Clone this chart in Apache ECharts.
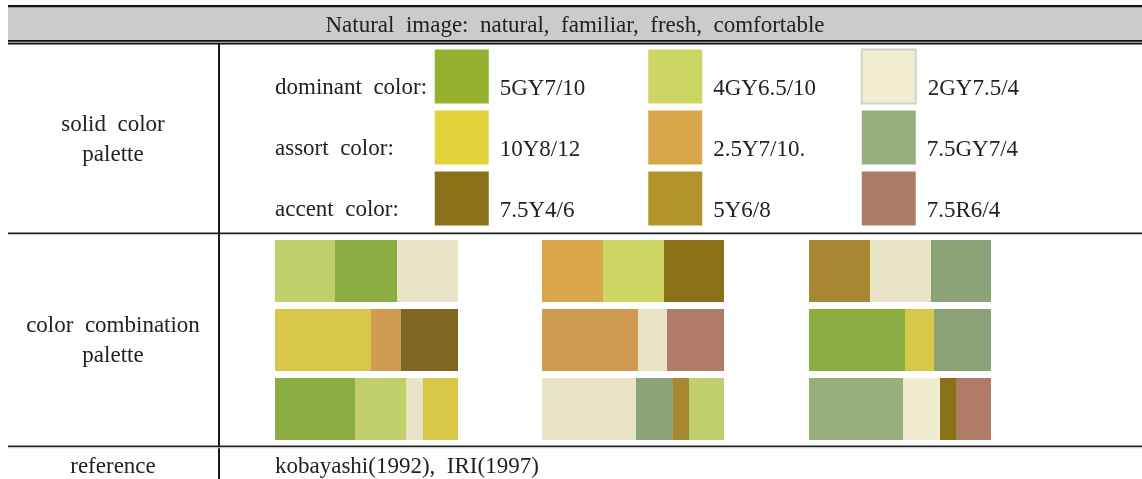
<!DOCTYPE html>
<html>
<head>
<meta charset="utf-8">
<script src="https://cdn.jsdelivr.net/npm/echarts@6/dist/echarts.min.js"></script>
<style>
  html, body { margin: 0; padding: 0; background: #fff; }
  #main { width: 1142px; height: 479px; }
</style>
</head>
<body>
<div id="main"></div>
<script>
var titleText = 'Natural  image:  natural,  familiar,  fresh,  comfortable';
var rowLabels = ['dominant  color:', 'assort  color:', 'accent  color:'];
var solidCodes = [
    ['5GY7/10', '4GY6.5/10', '2GY7.5/4'],
    ['10Y8/12', '2.5Y7/10.', '7.5GY7/4'],
    ['7.5Y4/6', '5Y6/8', '7.5R6/4']
];
var solidColors = [
    ['#95b12f', '#ccd662', '#f0edd0'],
    ['#e0d238', '#d8a64b', '#98af7b'],
    ['#8a7016', '#b3942c', '#ae7b66']
];
// widths of each segment, per palette column, per row
var comboWidths = [
    [[60, 62, 61], [96, 30, 57], [80, 51, 17, 35]],
    [[61, 61, 60], [96, 29, 57], [94, 37, 16, 35]],
    [[61, 61, 60], [96, 29, 57], [94, 37, 16, 35]]
];
var comboColors = [
    [['#c0ce6c', '#8aae41', '#e9e4c5'], ['#d8c749', '#d09b53', '#806823'], ['#8aae41', '#c0ce6c', '#e9e4c5', '#d8c749']],
    [['#d9a64b', '#cdd662', '#8a7016'], ['#d09b53', '#e9e4c5', '#b07c67'], ['#e9e4c5', '#8aa377', '#a88732', '#c0ce6c']],
    [['#a88732', '#e9e4c5', '#8aa377'], ['#8aae41', '#d8c749', '#8aa377'], ['#99af7b', '#f0ecd0', '#8a7016', '#b07c67']]
];
var sideLabels = ['solid  color\npalette', 'color  combination\npalette', 'reference'];
var referenceText = 'kobayashi(1992),  IRI(1997)';

var FONT = '"Liberation Serif", "DejaVu Serif", serif';

drawTable()

function drawTable() {
    var myChart = echarts.init(document.getElementById('main'));

    var grids = [{ left: 355, top: 46, width: 640.5, height: 183 }];
    var xAxes = [{ type: 'category', gridIndex: 0, data: [0, 1, 2], show: false }];
    var yAxes = [{
        type: 'category', gridIndex: 0, data: rowLabels, inverse: true,
        axisLine: { show: false }, axisTick: { show: false }, splitLine: { show: false },
        axisLabel: {
            align: 'left', verticalAlign: 'top', margin: 80,
            color: '#222', fontFamily: FONT, fontSize: 23
        }
    }];

    var solidData = [];
    for (var r = 0; r < solidCodes.length; r++) {
        for (var c = 0; c < solidCodes[r].length; c++) {
            var style = { color: solidColors[r][c], opacity: 1 };
            if (r == 0 && c == 2) {
                style.borderColor = '#d2d2c6';
                style.borderWidth = 2;
            }
            solidData.push({ value: [c, r], name: solidCodes[r][c], itemStyle: style });
        }
    }

    var series = [{
        type: 'scatter',
        xAxisIndex: 0, yAxisIndex: 0,
        symbol: 'rect', symbolSize: [54, 54],
        itemStyle: { opacity: 1 },
        data: solidData,
        label: {
            show: true, position: 'right', distance: 11, offset: [0, 12],
            formatter: '{b}', color: '#222', fontFamily: FONT, fontSize: 23
        }
    }];

    var lefts = [275, 542, 809];
    for (var g = 0; g < comboWidths.length; g++) {
        var total = comboWidths[g][0].reduce(function (a, b) { return a + b }, 0);
        grids.push({ left: lefts[g], top: 236.5, width: total, height: 207 });
        xAxes.push({ type: 'value', gridIndex: g + 1, min: 0, max: total, show: false });
        yAxes.push({ type: 'category', gridIndex: g + 1, data: [0, 1, 2], inverse: true, show: false });
        for (var k = 0; k < 4; k++) {
            var data = [];
            for (var row = 0; row < 3; row++) {
                var w = comboWidths[g][row][k];
                if (w == null) {
                    data.push('-');
                } else {
                    data.push({ value: w, itemStyle: { color: comboColors[g][row][k] } });
                }
            }
            series.push({
                type: 'bar', stack: 'combo' + g,
                xAxisIndex: g + 1, yAxisIndex: g + 1,
                barWidth: 62, data: data
            });
        }
    }

    var txt = function (x, y, text, align) {
        return {
            type: 'text', x: x, y: y,
            style: {
                text: text, fill: '#222', font: '23px ' + FONT,
                align: align, verticalAlign: 'middle', lineHeight: 30
            }
        };
    };
    var bar = function (x, y, w, h, color) {
        return { type: 'rect', shape: { x: x, y: y, width: w, height: h }, style: { fill: color } };
    };

    var option = {
        animation: false,
        grid: grids,
        xAxis: xAxes,
        yAxis: yAxes,
        series: series,
        graphic: [
            bar(8, 7, 1134, 36, '#cbcbcb'),
            bar(8, 5, 1134, 2.2, '#111'),
            bar(8, 40, 1134, 1.7, '#111'),
            bar(8, 42.8, 1134, 1.6, '#111'),
            bar(218, 44, 2, 435, '#1a1a1a'),
            bar(8, 232.6, 1134, 1.6, '#222'),
            bar(8, 445.6, 1134, 1.6, '#222'),
            bar(8, 447.2, 1134, 1, '#c8c8c8'),
            txt(575, 25.5, titleText, 'center'),
            txt(113, 140, sideLabels[0], 'center'),
            txt(113, 341, sideLabels[1], 'center'),
            txt(113, 466.5, sideLabels[2], 'center'),
            txt(275, 466.5, referenceText, 'left')
        ]
    };
    myChart.setOption(option);
}
</script>
</body>
</html>
